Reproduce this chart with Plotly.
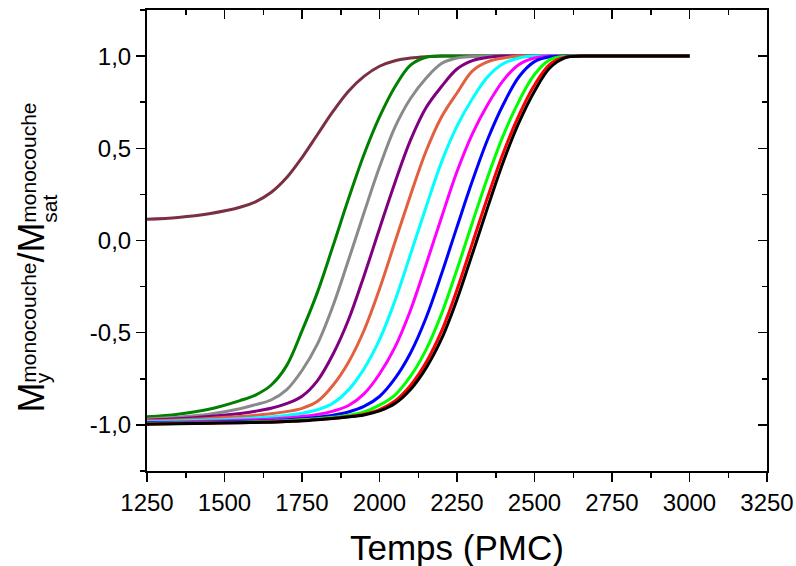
import plotly.graph_objects as go

# ---------------- data ----------------
x_time = [1250, 1350, 1450, 1550, 1600, 1650, 1700, 1750, 1800, 1850, 1900, 1950,
          2000, 2050, 2100, 2150, 2200, 2250, 2300, 2350, 2400, 2450, 2500, 2550,
          2600, 2650, 2700, 3000]

wine = [0.115, 0.125, 0.145, 0.18, 0.21, 0.26, 0.34, 0.45, 0.575, 0.70, 0.81, 0.89,
        0.945, 0.975, 0.99, 0.997, 1.0, 1.0, 1.0, 1.0, 1.0, 1.0, 1.0, 1.0,
        1.0, 1.0, 1.0, 1.0]
green = [-0.956, -0.942, -0.915, -0.868, -0.838, -0.785, -0.68, -0.49, -0.28, -0.03, 0.226, 0.466,
         0.67, 0.834, 0.951, 0.994, 1.0, 1.0, 1.0, 1.0, 1.0, 1.0, 1.0, 1.0,
         1.0, 1.0, 1.0, 1.0]
gray = [-0.968, -0.958, -0.942, -0.912, -0.89, -0.865, -0.81, -0.705, -0.561, -0.354, -0.106, 0.15,
        0.398, 0.615, 0.77, 0.88, 0.96, 0.99, 0.998, 1.0, 1.0, 1.0, 1.0, 1.0,
        1.0, 1.0, 1.0, 1.0]
purple = [-0.975, -0.967, -0.955, -0.938, -0.926, -0.91, -0.885, -0.845, -0.76, -0.617, -0.43, -0.192,
          0.064, 0.315, 0.544, 0.72, 0.835, 0.93, 0.975, 0.993, 1.0, 1.0, 1.0, 1.0,
          1.0, 1.0, 1.0, 1.0]
tomato = [-0.978, -0.973, -0.965, -0.955, -0.948, -0.94, -0.928, -0.91, -0.872, -0.785, -0.66, -0.488,
          -0.263, -0.008, 0.246, 0.484, 0.67, 0.80, 0.92, 0.97, 0.99, 1.0, 1.0, 1.0,
          1.0, 1.0, 1.0, 1.0]
cyan = [-0.983, -0.979, -0.974, -0.967, -0.963, -0.957, -0.949, -0.937, -0.918, -0.882, -0.81, -0.696,
        -0.538, -0.326, -0.075, 0.18, 0.425, 0.62, 0.77, 0.89, 0.96, 0.99, 1.0, 1.0,
        1.0, 1.0, 1.0, 1.0]
magenta = [-0.987, -0.984, -0.98, -0.975, -0.972, -0.968, -0.962, -0.954, -0.943, -0.925, -0.895, -0.832,
           -0.724, -0.578, -0.378, -0.131, 0.125, 0.374, 0.58, 0.74, 0.87, 0.955, 0.99, 1.0,
           1.0, 1.0, 1.0, 1.0]
blue = [-0.99, -0.988, -0.985, -0.982, -0.98, -0.977, -0.973, -0.967, -0.958, -0.947, -0.93, -0.9,
        -0.846, -0.748, -0.61, -0.42, -0.182, 0.074, 0.325, 0.553, 0.74, 0.888, 0.97, 0.996,
        1.0, 1.0, 1.0, 1.0]
lime = [-0.992, -0.99, -0.988, -0.985, -0.983, -0.98, -0.977, -0.972, -0.967, -0.959, -0.948, -0.93,
        -0.893, -0.838, -0.736, -0.593, -0.398, -0.157, 0.099, 0.349, 0.573, 0.756, 0.90, 0.981,
        0.999, 1.0, 1.0, 1.0]
red = [-0.995, -0.993, -0.991, -0.988, -0.986, -0.984, -0.981, -0.977, -0.971, -0.964, -0.955, -0.942,
       -0.917, -0.87, -0.786, -0.662, -0.492, -0.267, -0.013, 0.241, 0.479, 0.68, 0.843, 0.956,
       0.995, 1.0, 1.0, 1.0]
black = [-0.996, -0.994, -0.991, -0.988, -0.987, -0.985, -0.982, -0.978, -0.972, -0.965, -0.957, -0.946,
         -0.924, -0.884, -0.808, -0.692, -0.534, -0.32, -0.07, 0.185, 0.43, 0.64, 0.81, 0.937,
         0.992, 1.0, 1.0, 1.0]

x_tickvals = [1250, 1500, 1750, 2000, 2250, 2500, 2750, 3000, 3250]
x_ticktext = ["1250", "1500", "1750", "2000", "2250", "2500", "2750", "3000", "3250"]
y_tickvals = [-1.0, -0.5, 0.0, 0.5, 1.0]
y_ticktext = ["-1,0", "-0,5", "0,0", "0,5", "1,0"]

x_title = "Temps (PMC)"

series = [
    (wine, "#7A3042"),
    (green, "#008000"),
    (gray, "#8A8A8A"),
    (purple, "#800080"),
    (tomato, "#E2603F"),
    (cyan, "#00FFFF"),
    (magenta, "#FF00FF"),
    (blue, "#0000FF"),
    (lime, "#00FF00"),
    (red, "#FF0000"),
    (black, "#000000"),
]

# ---------------- figure ----------------
W, H = 796, 566
SL, ST, PW, PH = 147, 10, 620, 461          # plot box in pixels
ML, MT = SL, ST
MR, MB = W - ML - PW, H - MT - PH
FONT = "Liberation Sans, Arial, sans-serif"

fig = go.Figure()
for ys, col in series:
    fig.add_trace(go.Scatter(x=x_time, y=ys, mode="lines",
                             line=dict(color=col, width=3, shape="spline", smoothing=1),
                             showlegend=False, hoverinfo="skip"))

# dummy trace for the top/right overlay axes
fig.add_trace(go.Scatter(x=[None], y=[None], xaxis="x2", yaxis="y2",
                         showlegend=False, hoverinfo="skip"))

common = dict(showgrid=False, zeroline=False, showline=True, linecolor="black",
              linewidth=2, tickcolor="black", tickwidth=1.5, ticklen=9)

fig.update_layout(
    width=W, height=H,
    margin=dict(l=ML, r=MR, t=MT, b=MB, autoexpand=False),
    paper_bgcolor="white", plot_bgcolor="white",
    showlegend=False,
    font=dict(family=FONT, color="black"),
    xaxis=dict(range=[1250, 3250], tickvals=x_tickvals, ticktext=x_ticktext,
               ticks="outside", tickfont=dict(size=24, family=FONT),
               minor=dict(dtick=125, tick0=1250, ticks="outside", ticklen=5,
                          tickwidth=1.5, tickcolor="black"),
               **common),
    yaxis=dict(range=[-1.25, 1.25], tickvals=y_tickvals, ticktext=y_ticktext,
               ticks="outside", tickfont=dict(size=24, family=FONT),
               minor=dict(dtick=0.25, tick0=-1.25, ticks="outside", ticklen=5,
                          tickwidth=1.5, tickcolor="black"),
               **common),
    xaxis2=dict(range=[1250, 3250], overlaying="x", side="top", anchor="y",
                tickvals=x_tickvals, showticklabels=False, ticks="inside",
                minor=dict(dtick=125, tick0=1250, ticks="inside", ticklen=5,
                           tickwidth=1.5, tickcolor="black"),
                **common),
    yaxis2=dict(range=[-1.25, 1.25], overlaying="y", side="right", anchor="x",
                tickvals=y_tickvals, showticklabels=False, ticks="inside",
                minor=dict(dtick=0.25, tick0=-1.25, ticks="inside", ticklen=5,
                           tickwidth=1.5, tickcolor="black"),
                **common),
)


def px_x(px):
    return (px - SL) / PW


def px_y(py):
    return (ST + PH - py) / PH


def add_rot(text, size, cx, start_py):
    fig.add_annotation(text=text, textangle=-90, showarrow=False,
                       xref="paper", yref="paper",
                       x=px_x(cx), y=px_y(start_py),
                       xanchor="center", yanchor="bottom",
                       borderpad=0, borderwidth=0,
                       font=dict(size=size, family=FONT, color="black"))


# y-axis title built from stacked pieces
FB, FS = 36, 21
add_rot("M", FB, 43 - 0.347 * FB, 413)
add_rot("monocouche", FS, 35 - 0.347 * FS, 383)
add_rot("y", FS, 50 - 0.347 * FS, 383)
add_rot("/M", FB, 43 - 0.347 * FB, 263)
add_rot("sat", FS, 56 - 0.347 * FS, 223)
add_rot("monocouche", FS, 35 - 0.347 * FS, 223)

# x-axis title
fig.add_annotation(text=x_title, showarrow=False, xref="paper", yref="paper",
                   x=0.5, y=px_y(547), xanchor="center", yanchor="middle",
                   font=dict(size=35, family=FONT, color="black"))

fig.write_html(
    "out.html",
    config={"displayModeBar": False, "staticPlot": True},
    post_script="document.body.style.margin='0px';document.body.style.overflow='hidden';",
)
